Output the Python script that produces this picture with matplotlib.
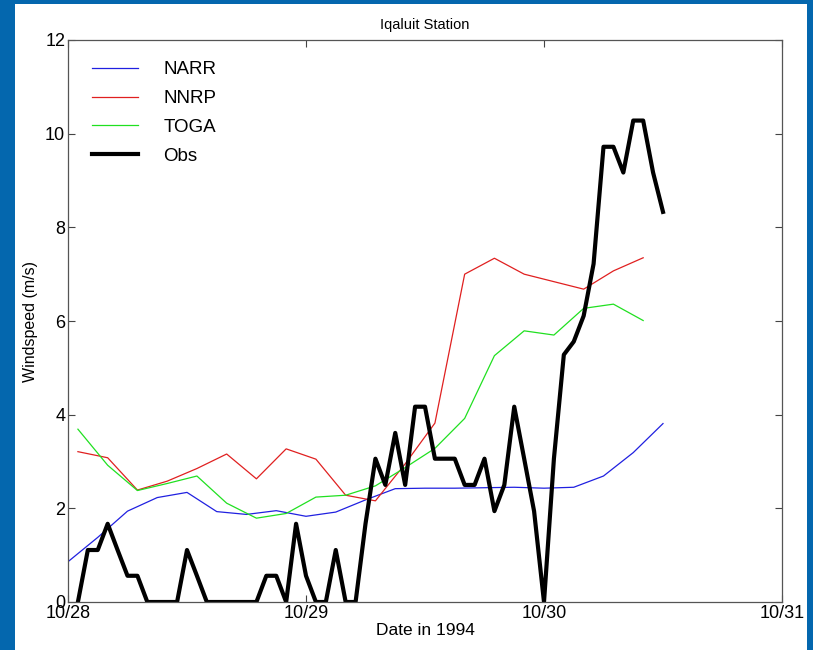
import matplotlib.pyplot as plt
from matplotlib.patches import Rectangle

# times in hours after 10/28 00:00
narr_hours = list(range(0, 61, 3))
model_hours = list(range(1, 59, 3))
obs_hours = list(range(1, 61))

narr = [0.86, 1.38, 1.94, 2.23, 2.34, 1.93, 1.87, 1.95, 1.83, 1.92, 2.18,
        2.42, 2.43, 2.43, 2.44, 2.45, 2.43, 2.45, 2.69, 3.19, 3.81]
nnrp = [3.21, 3.08, 2.39, 2.58, 2.85, 3.16, 2.63, 3.27, 3.05, 2.28,
        2.16, 2.95, 3.82, 7.00, 7.34, 7.00, 6.84, 6.68, 7.07, 7.35]
toga = [3.69, 2.92, 2.38, 2.53, 2.69, 2.11, 1.79, 1.89, 2.24, 2.28,
        2.48, 2.87, 3.28, 3.92, 5.26, 5.79, 5.70, 6.27, 6.36, 6.01]
obs = [0, 1.11, 1.11, 1.67, 1.11, 0.56, 0.56, 0, 0, 0,
       0, 1.11, 0.56, 0, 0, 0, 0, 0, 0, 0.56,
       0.56, 0, 1.67, 0.56, 0, 0, 1.11, 0, 0, 1.67,
       3.06, 2.50, 3.61, 2.50, 4.17, 4.17, 3.06, 3.06, 3.06, 2.50,
       2.50, 3.06, 1.94, 2.50, 4.17, 3.06, 1.94, 0, 3.06, 5.28,
       5.56, 6.11, 7.22, 9.72, 9.72, 9.17, 10.28, 10.28, 9.17, 8.33]

day_labels = ["10/28", "10/29", "10/30", "10/31"]

plt.rcParams["font.family"] = ["Liberation Sans", "DejaVu Sans"]

W, H = 813, 650
fig = plt.figure(figsize=(W / 100, H / 100), dpi=100, facecolor="#0467ae")
fig.patches.append(Rectangle((15 / W, 0), 792 / W, 646 / H,
                             transform=fig.transFigure, facecolor="white",
                             edgecolor="none", zorder=-10))

ax = fig.add_axes([68 / W, 48 / H, 714 / W, 562 / H])

def days(hours):
    return [h / 24 for h in hours]

ax.plot(days(narr_hours), narr, color="#2020e0", lw=0.9, label="NARR")
ax.plot(days(model_hours), nnrp, color="#e02020", lw=0.9, label="NNRP")
ax.plot(days(model_hours), toga, color="#20e020", lw=0.9, label="TOGA")
ax.plot(days(obs_hours), obs, color="black", lw=3.0, label="Obs")

ax.set_xlim(0, 3)
ax.set_ylim(0, 12)
ax.set_xticks(range(len(day_labels)))
ax.set_xticklabels(day_labels)
ax.set_yticks([0, 2, 4, 6, 8, 10, 12])
ax.tick_params(direction="in", top=True, right=True, length=5, width=0.8,
               color="#444444", labelsize=13, pad=2)
for s in ax.spines.values():
    s.set_color("#555555")
    s.set_linewidth(0.9)

ax.set_title("Iqaluit Station", fontsize=10.5, pad=8)
ax.set_xlabel("Date in 1994", fontsize=12.5, labelpad=1)
ax.set_ylabel("Windspeed (m/s)", fontsize=11.5, labelpad=5)

ax.legend(loc="upper left", bbox_to_anchor=(0.034, 0.962), frameon=False,
          fontsize=13.5, handlelength=2.45, handletextpad=1.35,
          labelspacing=0.62, borderaxespad=0, borderpad=0)

fig.savefig("out.png", dpi=100, facecolor=fig.get_facecolor())
